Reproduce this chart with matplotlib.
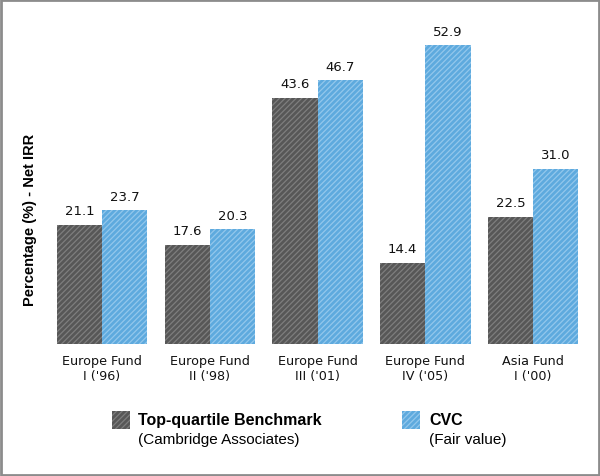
import matplotlib.pyplot as plt
from matplotlib.patches import Rectangle
import numpy as np

# data
funds = ["Europe Fund\nI ('96)", "Europe Fund\nII ('98)", "Europe Fund\nIII ('01)",
         "Europe Fund\nIV ('05)", "Asia Fund\nI ('00)"]
benchmark = [21.1, 17.6, 43.6, 14.4, 22.5]
cvc = [23.7, 20.3, 46.7, 52.9, 31.0]

gray_face = '#575757'
gray_hatch = '#7e7e7e'
blue_face = '#5eaade'
blue_hatch = '#93c7ec'

plt.rcParams['font.family'] = ['Liberation Sans', 'DejaVu Sans']
plt.rcParams['hatch.linewidth'] = 0.9

fig = plt.figure(figsize=(6.0, 4.77), dpi=100)
ax = fig.add_axes([50 / 600, 132 / 477, 540 / 600, 325 / 477])

x = np.arange(len(funds))
w = 0.42
b1 = ax.bar(x - w / 2, benchmark, w, color=gray_face, edgecolor=gray_hatch,
            hatch='//////', linewidth=0)
b2 = ax.bar(x + w / 2, cvc, w, color=blue_face, edgecolor=blue_hatch,
            hatch='//////', linewidth=0)

# value labels above bars
for bars, vals in [(b1, benchmark), (b2, cvc)]:
    for rect, v in zip(bars, vals):
        ax.text(rect.get_x() + rect.get_width() / 2, v + 1.3, f'{v:.1f}',
                ha='center', va='bottom', fontsize=9.5, color='#111111',
                family='DejaVu Sans')

ax.set_xlim(-0.483, 4.529)
ax.set_ylim(0, 57.5)
ax.set_xticks(x)
ax.set_xticklabels(funds, fontsize=9.2, color='#111111', family='DejaVu Sans')
ax.tick_params(axis='x', length=0, pad=7)
ax.set_yticks([])
for s in ax.spines.values():
    s.set_visible(False)

fig.text(30 / 600, 1 - 220 / 477, 'Percentage (%) - Net IRR', rotation=90,
         ha='center', va='center', fontsize=10.5, fontweight='bold')

# legend drawn by hand
fig.patches.append(Rectangle((112 / 600, 1 - 430 / 477), 18 / 600, 18 / 477,
                             transform=fig.transFigure, facecolor=gray_face,
                             edgecolor=gray_hatch, hatch='//////', linewidth=0))
fig.text(138 / 600, 1 - 421 / 477, 'Top-quartile Benchmark', fontsize=11.5,
         fontweight='bold', va='center')
fig.text(138 / 600, 1 - 440 / 477, '(Cambridge Associates)', fontsize=11,
         va='center')
fig.patches.append(Rectangle((402 / 600, 1 - 430 / 477), 18 / 600, 18 / 477,
                             transform=fig.transFigure, facecolor=blue_face,
                             edgecolor=blue_hatch, hatch='//////', linewidth=0))
fig.text(429 / 600, 1 - 421 / 477, 'CVC', fontsize=11.5, fontweight='bold',
         va='center')
fig.text(429 / 600, 1 - 440 / 477, '(Fair value)', fontsize=11, va='center')

# gray frame around the whole picture
fig.patches.append(Rectangle((0.002, 0.002), 0.996, 0.996, transform=fig.transFigure,
                             fill=False, edgecolor='#8c8c8c', linewidth=2))

fig.savefig('out.png', dpi=100)
